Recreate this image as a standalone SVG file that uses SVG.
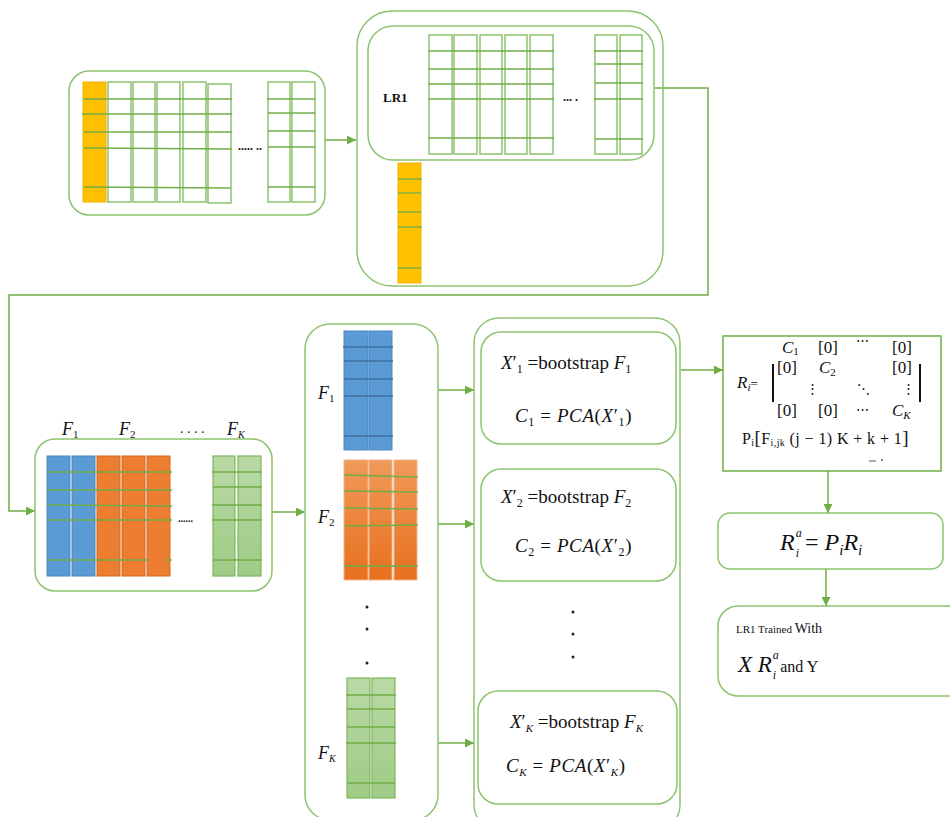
<svg xmlns="http://www.w3.org/2000/svg" width="950" height="817" viewBox="0 0 950 817">
<defs>
<marker id="arr" viewBox="0 0 10 10" refX="10" refY="5" markerWidth="10" markerHeight="9" markerUnits="userSpaceOnUse" orient="auto">
<path d="M0,0 L10,5 L0,10 z" fill="#70AD47"/>
</marker>
<linearGradient id="gOr" x1="0" y1="0" x2="0" y2="1">
<stop offset="0" stop-color="#F19A5A"/><stop offset="1" stop-color="#E8701E"/>
</linearGradient>
<linearGradient id="gGr" x1="0" y1="0" x2="0" y2="1">
<stop offset="0" stop-color="#B9D9A5"/><stop offset="1" stop-color="#9FCB86"/>
</linearGradient>
</defs>
<style>
.box{fill:none;stroke:#8DC26F;stroke-width:1.5}
.sq{fill:#fff;stroke:#70AD47;stroke-width:1.5}
.col{fill:#fff;stroke:#8DC26F;stroke-width:1.5}
.gl{stroke:#70AD47;stroke-width:1.3}
.bl{stroke:#3F6F9E;stroke-width:1.3}
.yel{fill:#FFC000;stroke:#F0B400;stroke-width:1}
.blue{fill:#5B9BD5;stroke:#4F88BE;stroke-width:1}
.ora{fill:#ED7D31;stroke:#D5691F;stroke-width:1}
.ora2{fill:url(#gOr);stroke:#F3B48A;stroke-width:1}
.grn{fill:url(#gGr);stroke:#7DB65B;stroke-width:1.2}
.con{fill:none;stroke:#70AD47;stroke-width:1.5}
.t{font-family:"Liberation Serif",serif;fill:#111}
.i{font-style:italic}
.dot{fill:#222}
</style>

<g id="connectors">
<line class="con" x1="325" y1="140" x2="356" y2="140" marker-end="url(#arr)"/>
<path class="con" d="M655,88 H708 V295 H9 V511 H35" marker-end="url(#arr)"/>
<line class="con" x1="272" y1="512" x2="305" y2="512" marker-end="url(#arr)"/>
<line class="con" x1="438" y1="390" x2="474" y2="390" marker-end="url(#arr)"/>
<line class="con" x1="438" y1="524" x2="474" y2="524" marker-end="url(#arr)"/>
<line class="con" x1="438" y1="743" x2="474" y2="743" marker-end="url(#arr)"/>
<line class="con" x1="681" y1="370" x2="723" y2="370" marker-end="url(#arr)"/>
<line class="con" x1="828" y1="471" x2="828" y2="513" marker-end="url(#arr)"/>
<line class="con" x1="826" y1="569" x2="826" y2="606" marker-end="url(#arr)"/>
</g>

<g id="data-matrix">
<rect class="box" x="69" y="71" width="256" height="144" rx="20"/>
<rect class="yel" x="83" y="82" width="23" height="120"/>
<rect class="col" x="108" y="82" width="23" height="120"/>
<rect class="col" x="133" y="82" width="22" height="120"/>
<rect class="col" x="157" y="82" width="23" height="120"/>
<rect class="col" x="183" y="82" width="23" height="120"/>
<rect class="col" x="208" y="84" width="23" height="119"/>
<rect class="col" x="268" y="82" width="22" height="120"/>
<rect class="col" x="292" y="82" width="23" height="120"/>
<g class="gl">
<line x1="83" y1="99" x2="232" y2="99"/><line x1="82" y1="114" x2="232" y2="114"/>
<line x1="84" y1="132" x2="232" y2="132"/><line x1="84" y1="148" x2="232" y2="149"/>
<line x1="84" y1="187" x2="231" y2="188"/>
<line x1="267" y1="99" x2="315" y2="99"/><line x1="268" y1="113" x2="315" y2="113"/>
<line x1="268" y1="131" x2="315" y2="131"/><line x1="268" y1="147" x2="315" y2="147"/>
<line x1="268" y1="187" x2="315" y2="187"/>
</g>
<text class="t" x="238" y="150" font-size="12" font-weight="bold">..... ..</text>
</g>

<g id="lr1-model">
<rect class="box" x="357" y="11" width="306" height="275" rx="35"/>
<rect class="box" x="368" y="26" width="286" height="134" rx="25"/>
<text class="t" x="383" y="102" font-size="13" font-weight="bold" fill="#444">LR1</text>
<rect class="col" x="429" y="35" width="23" height="119"/>
<rect class="col" x="454" y="35" width="23" height="119"/>
<rect class="col" x="480" y="35" width="22" height="119"/>
<rect class="col" x="505" y="35" width="22" height="119"/>
<rect class="col" x="530" y="35" width="23" height="119"/>
<rect class="col" x="595" y="35" width="22" height="119"/>
<rect class="col" x="620" y="35" width="22" height="119"/>
<g class="gl">
<line x1="428" y1="51" x2="554" y2="51"/><line x1="428" y1="69" x2="554" y2="69"/>
<line x1="428" y1="84" x2="554" y2="84"/><line x1="428" y1="99" x2="554" y2="99"/>
<line x1="428" y1="138" x2="554" y2="138"/>
<line x1="594" y1="51" x2="643" y2="51"/><line x1="595" y1="64" x2="643" y2="64"/>
<line x1="595" y1="83" x2="643" y2="83"/><line x1="594" y1="99" x2="643" y2="99"/>
<line x1="595" y1="139" x2="643" y2="139"/>
</g>
<text class="t" x="563" y="101" font-size="12" font-weight="bold">... .</text>
<rect class="yel" x="398" y="163" width="23" height="120"/>
<g class="gl">
<line x1="398" y1="179" x2="422" y2="179"/><line x1="398" y1="193" x2="421" y2="193"/>
<line x1="398" y1="212" x2="421" y2="212"/><line x1="398" y1="227" x2="422" y2="227"/>
<line x1="398" y1="268" x2="421" y2="268"/>
</g>
</g>

<g id="feature-groups">
<rect class="box" x="35" y="439" width="237" height="152" rx="20"/>
<text class="t i" x="62" y="435" font-size="18">F<tspan font-size="11" dy="3" font-style="normal">1</tspan></text>
<text class="t i" x="119" y="435" font-size="18">F<tspan font-size="11" dy="3" font-style="normal">2</tspan></text>
<text class="t" x="180" y="433" font-size="14">. . . .</text>
<text class="t i" x="227" y="435" font-size="18">F<tspan font-size="10" dy="3">K</tspan></text>
<rect class="blue" x="47" y="456" width="23" height="120"/>
<rect class="blue" x="72" y="456" width="23" height="120"/>
<rect class="ora" x="97" y="456" width="23" height="120"/>
<rect class="ora" x="122" y="456" width="23" height="120"/>
<rect class="ora" x="147" y="456" width="23" height="120"/>
<rect class="grn" x="213" y="456" width="22" height="120"/>
<rect class="grn" x="238" y="456" width="23" height="120"/>
<g class="gl">
<line x1="47" y1="472" x2="172" y2="472"/><line x1="47" y1="490" x2="172" y2="490"/>
<line x1="47" y1="505" x2="172" y2="506"/><line x1="47" y1="520" x2="172" y2="520"/>
<line x1="47" y1="560" x2="148" y2="560"/><line x1="165" y1="560" x2="172" y2="560"/>
<line x1="212" y1="472" x2="262" y2="472"/><line x1="213" y1="487" x2="262" y2="487"/>
<line x1="212" y1="505" x2="262" y2="505"/><line x1="212" y1="520" x2="262" y2="520"/>
<line x1="213" y1="560" x2="262" y2="560"/>
</g>
<text class="t" x="178" y="522" font-size="10" font-weight="bold">......</text>
</g>

<g id="feature-split">
<rect class="box" x="305" y="324" width="133" height="496" rx="25"/>
<text class="t i" x="318" y="399" font-size="18">F<tspan font-size="11" dy="3" font-style="normal">1</tspan></text>
<text class="t i" x="318" y="523" font-size="18">F<tspan font-size="11" dy="3" font-style="normal">2</tspan></text>
<text class="t i" x="318" y="759" font-size="18">F<tspan font-size="10" dy="3">K</tspan></text>
<rect class="blue" x="344" y="331" width="24" height="119"/>
<rect class="blue" x="369" y="331" width="23" height="119"/>
<g class="bl">
<line x1="343" y1="347" x2="393" y2="347"/><line x1="344" y1="361" x2="393" y2="361"/>
<line x1="344" y1="379" x2="393" y2="379"/><line x1="344" y1="396" x2="393" y2="396"/>
<line x1="344" y1="436" x2="393" y2="436"/>
</g>
<rect class="ora2" x="344" y="460" width="24" height="120"/>
<rect class="ora2" x="369" y="460" width="23" height="120"/>
<rect class="ora2" x="394" y="460" width="23" height="120"/>
<g class="gl">
<line x1="344" y1="475" x2="418" y2="477"/><line x1="344" y1="491" x2="418" y2="492"/>
<line x1="344" y1="508" x2="418" y2="509"/><line x1="345" y1="526" x2="418" y2="525"/>
<line x1="344" y1="566" x2="418" y2="566"/>
</g>
<circle class="dot" cx="367" cy="607" r="1.5"/>
<circle class="dot" cx="367" cy="629" r="1.5"/>
<circle class="dot" cx="367" cy="663" r="1.5"/>
<rect class="grn" x="347" y="678" width="23" height="120"/>
<rect class="grn" x="372" y="678" width="23" height="120"/>
<g class="gl">
<line x1="346" y1="695" x2="396" y2="695"/><line x1="347" y1="709" x2="395" y2="709"/>
<line x1="347" y1="727" x2="395" y2="727"/><line x1="346" y1="743" x2="396" y2="743"/>
<line x1="347" y1="783" x2="395" y2="783"/>
</g>
</g>

<g id="pca-column">
<rect class="box" x="474" y="318" width="206" height="512" rx="25"/>
</g>
<g id="pca-1">
<rect class="box" x="481" y="332" width="195" height="112" rx="20"/>
<text class="t" x="501" y="369" font-size="19"><tspan class="i">X</tspan>′<tspan font-size="12" dy="4">1</tspan><tspan dy="-4"> =bootstrap </tspan><tspan class="i">F</tspan><tspan font-size="12" dy="4">1</tspan></text>
<text class="t" x="515" y="422" font-size="19" letter-spacing="0.6"><tspan class="i">C</tspan><tspan font-size="12" dy="4">1</tspan><tspan dy="-4"> = </tspan><tspan class="i">PCA</tspan>(<tspan class="i">X</tspan>′<tspan font-size="12" dy="4">1</tspan><tspan dy="-4">)</tspan></text>
</g>
<g id="pca-2">
<rect class="box" x="481" y="469" width="195" height="112" rx="20"/>
<text class="t" x="501" y="503" font-size="19"><tspan class="i">X</tspan>′<tspan font-size="12" dy="4">2</tspan><tspan dy="-4"> =bootstrap </tspan><tspan class="i">F</tspan><tspan font-size="12" dy="4">2</tspan></text>
<text class="t" x="515" y="552" font-size="19" letter-spacing="0.6"><tspan class="i">C</tspan><tspan font-size="12" dy="4">2</tspan><tspan dy="-4"> = </tspan><tspan class="i">PCA</tspan>(<tspan class="i">X</tspan>′<tspan font-size="12" dy="4">2</tspan><tspan dy="-4">)</tspan></text>
</g>
<g id="pca-dots">
<circle class="dot" cx="573" cy="612" r="1.5"/>
<circle class="dot" cx="573" cy="634" r="1.5"/>
<circle class="dot" cx="573" cy="657" r="1.5"/>
</g>
<g id="pca-k">
<rect class="box" x="478" y="691" width="199" height="113" rx="20"/>
<text class="t" x="510" y="728" font-size="19"><tspan class="i">X</tspan>′<tspan class="i" font-size="11" dy="4">K</tspan><tspan dy="-4"> =bootstrap </tspan><tspan class="i">F</tspan><tspan class="i" font-size="11" dy="4">K</tspan></text>
<text class="t" x="506" y="772" font-size="19" letter-spacing="0.6"><tspan class="i">C</tspan><tspan class="i" font-size="11" dy="4">K</tspan><tspan dy="-4"> = </tspan><tspan class="i">PCA</tspan>(<tspan class="i">X</tspan>′<tspan class="i" font-size="11" dy="4">K</tspan><tspan dy="-4">)</tspan></text>
</g>

<g id="rotation-matrix">
<rect class="sq" x="723" y="336" width="218" height="135"/>
<g class="t" font-size="17">
<text x="782" y="353"><tspan class="i">C</tspan><tspan font-size="11" dy="2">1</tspan></text>
<text x="818" y="353">[0]</text>
<text x="856" y="345" font-size="13">⋯</text>
<text x="892" y="353">[0]</text>
<text x="777" y="373">[0]</text>
<text x="819" y="373"><tspan class="i">C</tspan><tspan font-size="11" dy="3">2</tspan></text>
<text x="892" y="373">[0]</text>
<text x="737" y="388"><tspan class="i">R</tspan><tspan class="i" font-size="11" dy="3">i</tspan><tspan font-size="13" dy="-3">=</tspan></text>
<text x="806" y="393" font-size="13">⋮</text>
<text x="857" y="393" font-size="13">⋱</text>
<text x="902" y="393" font-size="13">⋮</text>
<text x="777" y="416">[0]</text>
<text x="818" y="416">[0]</text>
<text x="856" y="414" font-size="13">⋯</text>
<text x="892" y="416"><tspan class="i">C</tspan><tspan class="i" font-size="11" dy="3">K</tspan></text>
<text x="742" y="444" font-size="16" letter-spacing="0.4">P<tspan font-size="10" dy="2">i</tspan><tspan dy="-2" font-size="19">[</tspan>F<tspan font-size="10" dy="2">i,jk</tspan><tspan dy="-2"> (j − 1) K + k + 1</tspan><tspan font-size="19">]</tspan></text>
</g>
<line x1="773" y1="364" x2="773" y2="402" stroke="#111" stroke-width="2"/>
<line x1="920" y1="364" x2="920" y2="402" stroke="#111" stroke-width="2"/>
<line x1="869" y1="461" x2="876" y2="461" stroke="#555" stroke-width="1"/>
<circle cx="882" cy="460" r="1" fill="#555"/>
</g>

<g id="augmented-rotation">
<rect class="box" x="718" y="513" width="225" height="56" rx="12"/>
<text class="t" x="780" y="550" font-size="24"><tspan class="i">R</tspan><tspan class="i" font-size="12" dx="1" dy="-13">a</tspan><tspan class="i" font-size="12" dx="-6" dy="20">i</tspan><tspan dy="-7"> = </tspan><tspan class="i">P</tspan><tspan class="i" font-size="15" dy="5">i</tspan><tspan class="i" dy="-5">R</tspan><tspan class="i" font-size="15" dy="5">i</tspan></text>
</g>

<g id="lr1-trained">
<rect class="box" x="718" y="606" width="260" height="90" rx="20"/>
<text class="t" x="736" y="633" font-size="11" fill="#333">LR1 Trained <tspan font-size="14">With</tspan></text>
<text class="t" x="738" y="672" font-size="23"><tspan class="i">X R</tspan><tspan class="i" font-size="12" dx="1" dy="-13">a</tspan><tspan class="i" font-size="12" dx="-6" dy="20">i</tspan><tspan font-size="16" dy="-7">  and Y</tspan></text>
</g>
</svg>
